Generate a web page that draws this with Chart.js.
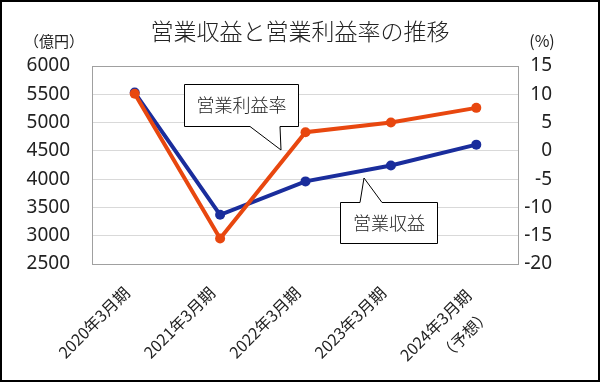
<!DOCTYPE html>
<html>
<head>
<meta charset="utf-8">
<script src="https://cdn.jsdelivr.net/npm/chart.js@4"></script>
<style>
  html, body { margin: 0; padding: 0; background: #fff; }
  #wrap { width: 600px; height: 382px; position: relative; }
</style>
</head>
<body>
<div id="wrap"><canvas id="chart" width="600" height="382"></canvas></div>
<script>
// 営業収益（億円）と営業利益率（%）の推移
const labels = ['2020年3月期', '2021年3月期', '2022年3月期', '2023年3月期', ['2024年3月期', '（予想）']];
const revenue = [5530, 3370, 3960, 4240, 4610];      // 営業収益 (左軸, 億円)
const marginRate = [10.1, -15.5, 3.3, 5.0, 7.6];     // 営業利益率 (右軸, %)
const leftTicks = [2500, 3000, 3500, 4000, 4500, 5000, 5500, 6000];
const rightTicks = [-20, -15, -10, -5, 0, 5, 10, 15];

const BLUE = '#1a2d9c';
const ORANGE = '#e8470f';
const JP = "'Noto Sans CJK JP', 'Noto Sans', sans-serif";
const NUM = "'Noto Sans', 'Noto Sans CJK JP', sans-serif";

// 吹き出し
function callout(ctx, box, tail, text) {
  ctx.save();
  ctx.beginPath();
  ctx.moveTo(box.x, box.y);
  if (tail.side === 'top') {
    ctx.lineTo(tail.a, box.y);
    ctx.lineTo(tail.tx, tail.ty);
    ctx.lineTo(tail.b, box.y);
    ctx.lineTo(box.x + box.w, box.y);
    ctx.lineTo(box.x + box.w, box.y + box.h);
    ctx.lineTo(box.x, box.y + box.h);
  } else {
    ctx.lineTo(box.x + box.w, box.y);
    ctx.lineTo(box.x + box.w, box.y + box.h);
    ctx.lineTo(tail.b, box.y + box.h);
    ctx.lineTo(tail.tx, tail.ty);
    ctx.lineTo(tail.a, box.y + box.h);
    ctx.lineTo(box.x, box.y + box.h);
  }
  ctx.closePath();
  ctx.fillStyle = '#fff';
  ctx.fill();
  ctx.strokeStyle = '#000';
  ctx.lineWidth = 1;
  ctx.stroke();
  ctx.fillStyle = '#222';
  ctx.font = '300 18px ' + JP;
  ctx.textAlign = 'center';
  ctx.textBaseline = 'middle';
  ctx.fillText(text, box.x + box.w / 2, box.y + box.h / 2);
  ctx.restore();
}

const decor = {
  id: 'decor',
  beforeDatasetsDraw(chart) {
    const ctx = chart.ctx, a = chart.chartArea;
    ctx.save();
    ctx.strokeStyle = '#a0a0a0';
    ctx.lineWidth = 1;
    ctx.strokeRect(a.left + 0.5, a.top + 0.5, a.right - a.left - 1, a.bottom - a.top);
    // 右軸の目盛り（右揃え）
    const y1 = chart.scales.y1;
    ctx.fillStyle = '#222';
    ctx.font = '19px ' + NUM;
    ctx.textAlign = 'right';
    ctx.textBaseline = 'middle';
    rightTicks.forEach(v => ctx.fillText(String(v), 552, y1.getPixelForValue(v)));
    ctx.restore();
  },
  afterDraw(chart) {
    const ctx = chart.ctx;
    callout(ctx, {x: 184.5, y: 84.5, w: 114, h: 42}, {side: 'bottom', a: 250, b: 280, tx: 281, ty: 150}, '営業利益率');
    callout(ctx, {x: 340.5, y: 202.5, w: 97, h: 41}, {side: 'top', a: 360, b: 382, tx: 364, ty: 178}, '営業収益');
    ctx.save();
    ctx.fillStyle = '#222';
    ctx.textBaseline = 'middle';
    ctx.textAlign = 'center';
    ctx.font = '300 23px ' + JP;
    ctx.fillText('営業収益と営業利益率の推移', 300, 31);
    ctx.font = '15px ' + JP;
    ctx.fillText('（億円）', 54, 41);
    ctx.font = '16px ' + JP;
    ctx.fillText('(%)', 542, 41);
    ctx.strokeStyle = '#000';
    ctx.lineWidth = 2;
    ctx.strokeRect(1, 1, 598, 380);
    ctx.restore();
  }
};

new Chart(document.getElementById('chart'), {
  type: 'line',
  data: {
    labels: labels,
    datasets: [{
      label: '営業利益率',
      data: marginRate,
      yAxisID: 'y1',
      borderColor: ORANGE,
      backgroundColor: ORANGE,
      borderWidth: 4,
      pointRadius: 5,
      pointBorderWidth: 0,
      pointBackgroundColor: ORANGE,
      tension: 0,
      order: 0
    }, {
      label: '営業収益',
      data: revenue,
      yAxisID: 'y',
      borderColor: BLUE,
      backgroundColor: BLUE,
      borderWidth: 4,
      pointRadius: 5,
      pointBorderWidth: 0,
      pointBackgroundColor: BLUE,
      tension: 0,
      order: 1
    }]
  },
  options: {
    responsive: false,
    animation: false,
    devicePixelRatio: 1,
    layout: { padding: { top: 66, left: 0, right: 0, bottom: 0 } },
    plugins: {
      legend: { display: false },
      tooltip: { enabled: false }
    },
    scales: {
      x: {
        offset: true,
        grid: { display: false, drawTicks: false },
        border: { display: false },
        ticks: {
          color: '#222',
          font: c => ({ size: 16, family: JP, lineHeight: c.index === 4 ? 1.7 : 1.2 }),
          minRotation: 45,
          maxRotation: 45,
          padding: 19,
          labelOffset: -8,
          autoSkip: false
        },
        afterFit(s) { s.height = 118; }
      },
      y: {
        position: 'left',
        min: 2500,
        max: 6000,
        afterBuildTicks(s) { s.ticks = leftTicks.map(v => ({ value: v })); },
        grid: { color: '#d9d9d9', drawTicks: false },
        border: { display: false },
        ticks: {
          color: '#222',
          font: { size: 19, family: NUM },
          padding: 22,
          callback: v => String(v)
        },
        afterFit(s) { s.width = 92; }
      },
      y1: {
        position: 'right',
        min: -20,
        max: 15,
        afterBuildTicks(s) { s.ticks = rightTicks.map(v => ({ value: v })); },
        grid: { display: false, drawTicks: false },
        border: { display: false },
        ticks: { display: false },
        afterFit(s) { s.width = 81; }
      }
    }
  },
  plugins: [decor]
});
</script>
</body>
</html>
